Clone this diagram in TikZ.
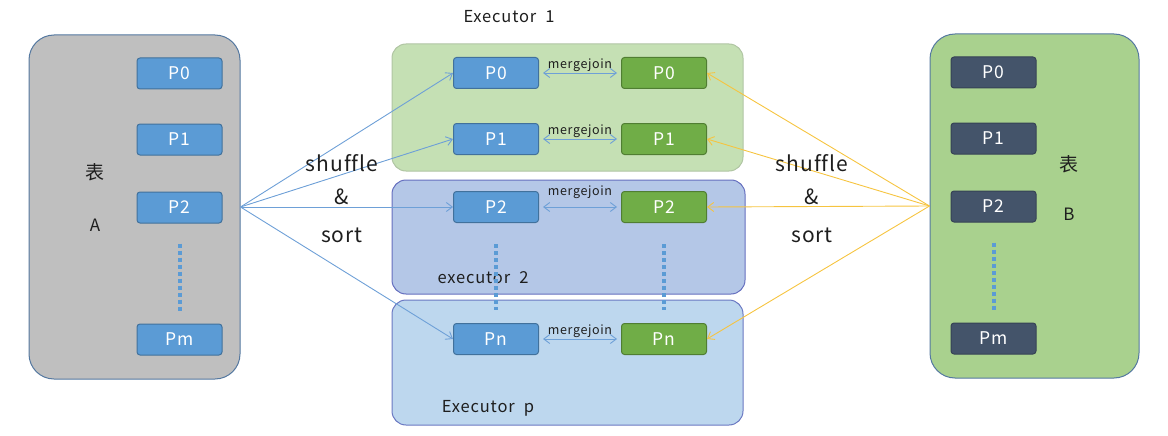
\documentclass[tikz,border=0pt]{standalone}
\usepackage{fontspec}
\setmainfont{Noto Sans CJK SC}[LetterSpace=5, Ligatures={NoCommon}]
\usepackage{xcolor}
\usetikzlibrary{arrows.meta}
\definecolor{pblue}{RGB}{91,155,213}
\definecolor{pbluedark}{RGB}{65,113,156}
\definecolor{pnavy}{RGB}{68,84,106}
\definecolor{pgreen}{RGB}{112,173,71}
\definecolor{pgreendark}{RGB}{80,126,50}
\definecolor{tgray}{RGB}{191,191,191}
\definecolor{tgreen}{RGB}{169,209,142}
\definecolor{tborder}{RGB}{84,120,160}
\definecolor{exone}{RGB}{197,224,180}
\definecolor{extwo}{RGB}{180,199,231}
\definecolor{exp}{RGB}{189,215,238}
\definecolor{lblue}{RGB}{110,160,215}
\definecolor{lyellow}{RGB}{246,196,64}
\definecolor{ink}{RGB}{30,30,30}

\tikzset{
  tablebox/.style={draw=tborder, line width=1pt, rounded corners=25pt},
  execbox/.style={rounded corners=14pt, line width=1pt},
  part/.style={draw, line width=1pt, rounded corners=3pt, minimum width=85pt,
    minimum height=31pt, text=white, font=\fontsize{17.5}{17.5}\selectfont},
  dots/.style={pblue, line width=4pt, dash pattern=on 4pt off 3pt},
  tip/.style={-{Straight Barb[length=6pt,width=9pt]}},
  label/.style={text=ink, font=\fontsize{21}{21}\selectfont},
  exlabel/.style={text=ink, font=\fontsize{16.5}{16.5}\selectfont}
}

\begin{document}
\begin{tikzpicture}[x=1pt,y=-1pt]
  \useasboundingbox (0,0) rectangle (1168,436);

  % Tables
  \node[tablebox, fill=tgray, minimum width=211pt, minimum height=344pt] (tabA) at (134.5,207) {};
  \node[tablebox, fill=tgreen, minimum width=209pt, minimum height=344pt] (tabB) at (1034.5,206) {};
  \node[text=ink, font=\fontsize{19}{19}\selectfont] (nameA1) at (95,172) {表};
  \node[text=ink, font=\fontsize{17}{17}\selectfont] (nameA2) at (95,225) {A};
  \node[text=ink, font=\fontsize{19}{19}\selectfont] (nameB1) at (1069,164) {表};
  \node[text=ink, font=\fontsize{17}{17}\selectfont] (nameB2) at (1069,214) {B};

  % Executors
  \node[execbox, fill=exone, draw=exone!85!black!90, minimum width=351pt, minimum height=127pt] (ex1) at (567.5,107.5) {};
  \node[execbox, fill=extwo, draw=extwo!70!blue!80!black, minimum width=353pt, minimum height=114pt] (ex2) at (568.5,237) {};
  \node[execbox, fill=exp, draw=exp!70!blue!80!black, minimum width=351pt, minimum height=125pt] (exp) at (567.5,362.5) {};
  \node[exlabel] (ex1name) at (509,17) {Executor\ \ 1};
  \node[exlabel] (ex2name) at (483,278) {executor\ \ 2};
  \node[exlabel] (expname) at (488,408) {Executor\ \ p};

  % Partitions
  \foreach \n/\y in {0/73.5, 1/139.5, 2/207.5, m/339.5} {
    \node[part, fill=pblue, draw=pbluedark] (a\n) at (179.5,\y) {P\n};
    \node[part, fill=pnavy, draw=pnavy!80!black] (b\n) at (993.5,\y-1) {P\n};
  }
  \foreach \n/\y in {0/73, 1/139, 2/207, n/339} {
    \node[part, fill=pblue, draw=pbluedark] (e\n) at (496,\y) {P\n};
    \node[part, fill=pgreen, draw=pgreendark] (f\n) at (664,\y) {P\n};
  }

  % Dots
  \draw[dots, shorten >=13pt, shorten <=20pt] (a2.south) -- (am.north);
  \draw[dots, shorten >=13pt, shorten <=20pt] (b2.south) -- (bm.north);
  \draw[dots, shorten >=13pt, shorten <=21pt] (e2.south) -- (en.north);
  \draw[dots, shorten >=13pt, shorten <=21pt] (f2.south) -- (fn.north);

  % Shuffle
  \foreach \n in {0,1,2,n} {
    \draw[lblue, line width=0.9pt, tip] (tabA.east) -- (e\n.west);
    \draw[lyellow, line width=0.9pt, tip] (tabB.west) -- (f\n.east);
  }

  % Merge join
  \foreach \n/\s in {0/0, 1/0, 2/7, n/0} {
    \draw[lblue, line width=0.9pt, {Straight Barb[length=6pt,width=9pt]}-{Straight Barb[length=6pt,width=9pt]},
      shorten >=4pt, shorten <=4pt] (e\n.east) -- (f\n.west)
      node[midway, above=\s pt, inner sep=1pt, text=ink, font=\fontsize{12.5}{12.5}\selectfont] {mergejoin};
  }

  % Labels
  \node[label] (shA) at (342,163) {shuffle};
  \node[label] (ampA) at (342,197) {\&};
  \node[label] (srtA) at (342,235) {sort};
  \node[label] (shB) at (812,163) {shuffle};
  \node[label] (ampB) at (812,197) {\&};
  \node[label] (srtB) at (812,235) {sort};

\end{tikzpicture}
\end{document}
